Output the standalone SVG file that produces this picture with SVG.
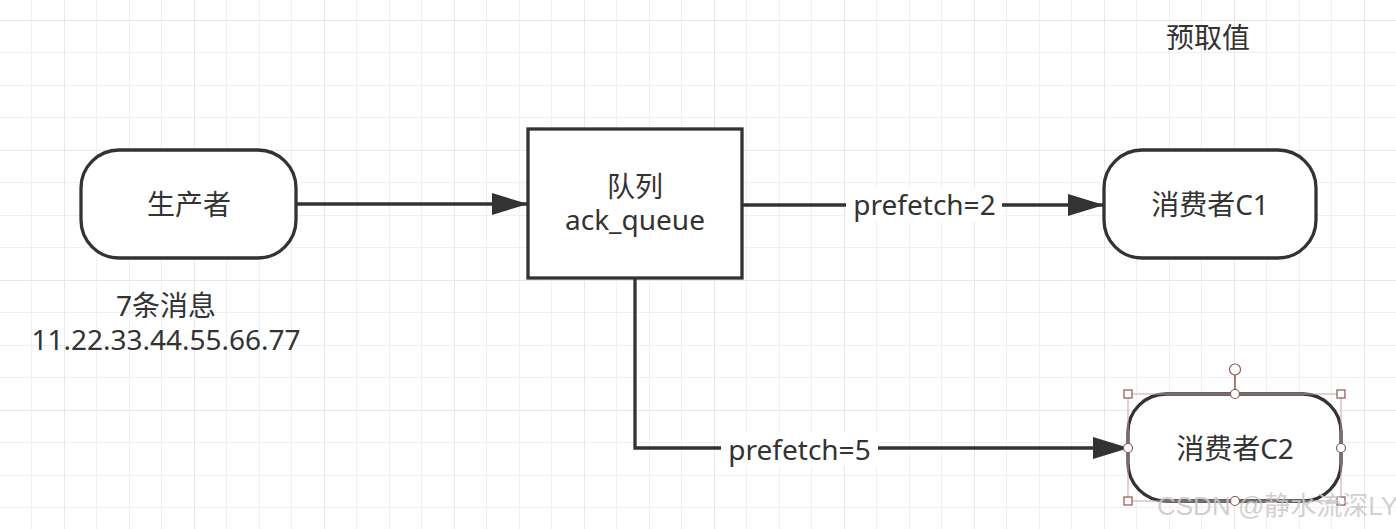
<svg xmlns="http://www.w3.org/2000/svg" width="1396" height="529" viewBox="0 0 1396 529">
<style>
.grid{stroke:#f0f0f0;stroke-width:1;fill:none}
.major{stroke:#e7e7e7;stroke-width:1;fill:none}
.node{fill:#fff;stroke:#333;stroke-width:3.3}
.edge{stroke:#333;stroke-width:3.3;fill:none}
.t{font-family:"Noto Sans","Noto Sans CJK SC",sans-serif;font-size:28px;fill:#333;text-anchor:middle}
.lbl{fill:#fff}
.sel{fill:none;stroke:#c9a3a3;stroke-width:1}
.h{fill:#fff;stroke:#8a5555;stroke-width:1.2}
.wm{font-family:"Liberation Sans","Noto Sans CJK SC",sans-serif;font-size:26px;fill:#c8c8c8;fill-opacity:0.85;text-anchor:start}
</style>
<defs>
<marker id="arr" viewBox="0 0 36 22" refX="35" refY="11" markerWidth="36" markerHeight="22" markerUnits="userSpaceOnUse" orient="auto">
<path d="M0 0 L36 11 L0 22 Z" fill="#333"/>
</marker>
</defs>
<rect width="1396" height="529" fill="#fff"/>
<g id="grid">
<path class="grid" d="M31.5 0V529M96.5 0V529M129.5 0V529M161.5 0V529M226.5 0V529M259.5 0V529M291.5 0V529M356.5 0V529M389.5 0V529M421.5 0V529M486.5 0V529M519.5 0V529M551.5 0V529M616.5 0V529M649.5 0V529M681.5 0V529M746.5 0V529M779.5 0V529M811.5 0V529M876.5 0V529M909.5 0V529M941.5 0V529M1006.5 0V529M1039.5 0V529M1071.5 0V529M1136.5 0V529M1169.5 0V529M1201.5 0V529M1266.5 0V529M1299.5 0V529M1331.5 0V529M0 52.5H1396M0 85.5H1396M0 117.5H1396M0 182.5H1396M0 215.5H1396M0 247.5H1396M0 312.5H1396M0 345.5H1396M0 377.5H1396M0 442.5H1396M0 475.5H1396M0 507.5H1396"/>
<path class="major" d="M64.5 0V529M194.5 0V529M324.5 0V529M454.5 0V529M584.5 0V529M714.5 0V529M844.5 0V529M974.5 0V529M1104.5 0V529M1234.5 0V529M1364.5 0V529M0 20.5H1396M0 150.5H1396M0 280.5H1396M0 410.5H1396"/>
</g>
<g id="connectors">
<path class="edge" d="M296 204 H527" marker-end="url(#arr)"/>
<path class="edge" d="M742 205 H1103" marker-end="url(#arr)"/>
<path class="edge" d="M635 278 V448 H1128" marker-end="url(#arr)"/>
<rect class="lbl" x="846" y="188" width="156" height="34"/>
<text class="t" x="924.5" y="215">prefetch=2</text>
<rect class="lbl" x="721" y="432" width="157" height="34"/>
<text class="t" x="799.5" y="460">prefetch=5</text>
</g>
<g id="producer">
<rect class="node" x="81" y="150" width="215" height="108" rx="38" ry="38"/>
<text class="t" x="189" y="215">生产者</text>
</g>
<g id="queue">
<rect class="node" x="528" y="129" width="214" height="149"/>
<text class="t" x="635" y="197">队列<tspan x="635" dy="33">ack_queue</tspan></text>
</g>
<g id="consumer1">
<rect class="node" x="1104" y="150" width="212" height="108" rx="38" ry="38"/>
<text class="t" x="1210" y="215">消费者C1</text>
</g>
<g id="consumer2">
<rect class="node" x="1128" y="394" width="213" height="107" rx="38" ry="38"/>
<text class="t" x="1235" y="459">消费者C2</text>
</g>
<g id="selection">
<rect class="sel" x="1128" y="394" width="213" height="107"/>
<line x1="1235" y1="375" x2="1235" y2="394" stroke="#8a5555" stroke-width="1.5"/>
<circle class="h" cx="1235" cy="369.5" r="5.5"/>
<rect class="h" x="1124" y="390" width="8" height="8"/>
<rect class="h" x="1337" y="390" width="8" height="8"/>
<rect class="h" x="1124" y="497" width="8" height="8"/>
<rect class="h" x="1337" y="497" width="8" height="8"/>
<circle class="h" cx="1235" cy="394" r="4.5"/>
<circle class="h" cx="1128" cy="448" r="4.5"/>
<circle class="h" cx="1341" cy="448" r="4.5"/>
<circle class="h" cx="1235" cy="501" r="4.5"/>
</g>
<g id="notes">
<text class="t" x="1208" y="48">预取值</text>
<text class="t" x="166" y="316">7条消息<tspan x="166" dy="34">11.22.33.44.55.66.77</tspan></text>
</g>
<text class="wm" x="1157" y="515">CSDN @静水流深LY</text>
</svg>
